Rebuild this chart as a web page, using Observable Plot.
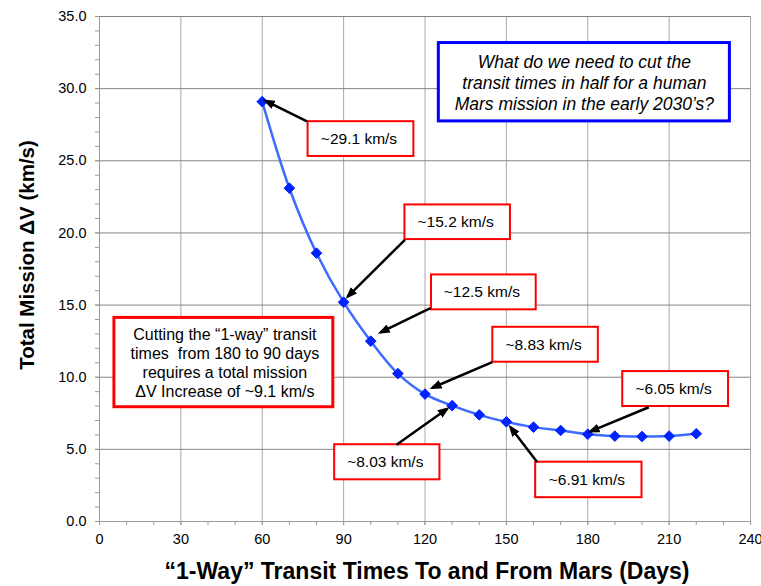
<!DOCTYPE html>
<html><head><meta charset="utf-8">
<script src="https://cdn.jsdelivr.net/npm/d3@7"></script>
<script src="https://cdn.jsdelivr.net/npm/@observablehq/plot@0.6"></script>
<style>
html,body{margin:0;padding:0;background:#fff;}
#chart svg text{white-space:pre;}
</style></head><body><div id="chart"></div>
<script>
// ---- data ----
const transitDays = [60, 70, 80, 90, 100, 110, 120, 130, 140, 150, 160, 170, 180, 190, 200, 210, 220];
const missionDeltaV = [29.1, 23.1, 18.6, 15.2, 12.5, 10.25, 8.83, 8.03, 7.39, 6.91, 6.54, 6.31, 6.05, 5.92, 5.89, 5.92, 6.08];

const xTicks = [0, 30, 60, 90, 120, 150, 180, 210, 240];
const xMinorTicks = d3.range(0, 241, 10);
const yTicks = [0, 5, 10, 15, 20, 25, 30, 35];
const yMinorTicks = d3.range(0, 36, 1);

const xTitle = "\u201C1-Way\u201D Transit Times To and From Mars (Days)";
const yTitle = "Total Mission \u0394V (km/s)";

// callouts (box corners / arrow ends in data units)
const calloutLabels = ["~29.1 km/s", "~15.2 km/s", "~12.5 km/s", "~8.83 km/s", "~6.05 km/s", "~8.03 km/s", "~6.91 km/s"];
const calloutBoxX1 = [76.9, 112.6, 122.4, 145.0, 192.9, 86.7, 160.8];
const calloutBoxX2 = [115.9, 151.5, 161.0, 183.9, 231.9, 125.5, 200.0];
const calloutBoxTop = [27.71, 21.94, 17.09, 13.46, 10.39, 5.32, 4.11];
const calloutBoxBottom = [25.30, 19.54, 14.67, 11.04, 7.97, 2.89, 1.65];
const arrowFromX = [76.5, 112.6, 122.0, 144.8, 202.5, 109.5, 161.4];
const arrowFromY = [27.73, 19.52, 14.78, 11.04, 7.92, 5.32, 4.11];
const arrowToX = [61.2, 91.5, 103.6, 122.7, 181.0, 128.2, 151.5];
const arrowToY = [29.16, 15.59, 13.1, 9.27, 6.24, 7.81, 6.54];

const noteCutText = "Cutting the \u201C1-way\u201D transit\ntimes  from 180 to 90 days\nrequires a total mission\n\u0394V Increase of ~9.1 km/s";
const noteCutBox = {x1: 5.5, x2: 86.2, top: 14.11, bottom: 7.92};
const noteQuestionText = "What do we need to cut the\ntransit times in half for a human\nMars mission in the early 2030\u2019s?";
const noteQuestionBox = {x1: 125.1, x2: 232.4, top: 33.16, bottom: 27.73};

// ---- build tables ----
const series = transitDays.map((d, i) => ({day: d, dv: missionDeltaV[i]}));
const callouts = calloutLabels.map((label, i) => ({
  label, x1: calloutBoxX1[i], x2: calloutBoxX2[i], top: calloutBoxTop[i], bottom: calloutBoxBottom[i],
  sx: arrowFromX[i], sy: arrowFromY[i], tx: arrowToX[i], ty: arrowToY[i]
}));
const notes = [{...noteCutBox, text: noteCutText}];
const questions = [{...noteQuestionBox, text: noteQuestionText}];

const font = "'Liberation Sans', Arial, Helvetica, sans-serif";

const chart = Plot.plot({
  width: 761,
  height: 586,
  marginLeft: 99,
  marginRight: 11,
  marginTop: 16,
  marginBottom: 65,
  style: {fontFamily: font, fontSize: "14.5px", color: "#000", background: "#fff", overflow: "visible"},
  x: {domain: [0, 240], label: null},
  y: {domain: [0, 35], label: null},
  marks: [
    Plot.gridX(xTicks.slice(1), {stroke: "#a8a8a8", strokeOpacity: 1, strokeWidth: 1}),
    Plot.gridY(yTicks.slice(1), {stroke: "#858585", strokeOpacity: 1, strokeWidth: 1}),
    Plot.axisY(yMinorTicks, {tickSize: 4, tickFormat: () => "", stroke: "#999", label: null}),
    Plot.axisY(yTicks, {tickSize: 4, tickPadding: 9, tickFormat: d => d.toFixed(1), stroke: "#999", fill: "#000", fontSize: 14.5, label: null}),
    Plot.axisX(xMinorTicks, {tickSize: 4, tickFormat: () => "", stroke: "#999", label: null}),
    Plot.axisX(xTicks, {tickSize: 4, tickPadding: 8, tickFormat: d => String(d), stroke: "#999", fill: "#000", fontSize: 14.5, label: null}),
    Plot.ruleX([0], {stroke: "#999"}),
    Plot.ruleY([0], {stroke: "#999"}),
    Plot.line(series, {x: "day", y: "dv", curve: "catmull-rom", stroke: "#3d6bff", strokeWidth: 2.5}),
    Plot.dot(series, {x: "day", y: "dv", symbol: "diamond2", r: 4.8, fill: "#0022ff", stroke: "#0022ff", strokeWidth: 1}),
    // callout boxes
    Plot.rect(callouts, {x1: "x1", x2: "x2", y1: "bottom", y2: "top", fill: "#fff", stroke: "#ff0000", strokeWidth: 2}),
    Plot.text(callouts, {x: d => (d.x1 + d.x2) / 2, y: d => (d.top + d.bottom) / 2, text: "label", fontSize: 15.5, fill: "#000", dx: -2}),
    Plot.link(callouts, {x1: "sx", y1: "sy", x2: "tx", y2: "ty", stroke: "#000", strokeWidth: 2.5}),
    // big notes
    Plot.rect(notes, {x1: "x1", x2: "x2", y1: "bottom", y2: "top", fill: "#fff", stroke: "#ff0000", strokeWidth: 3}),
    Plot.text(notes, {x: d => (d.x1 + d.x2) / 2, y: d => (d.top + d.bottom) / 2, text: "text", fontSize: 16, lineHeight: 1.18, fill: "#000", dx: 1}),
    Plot.rect(questions, {x1: "x1", x2: "x2", y1: "bottom", y2: "top", fill: "#fff", stroke: "#0000ff", strokeWidth: 3}),
    Plot.text(questions, {x: d => (d.x1 + d.x2) / 2, y: d => (d.top + d.bottom) / 2, text: "text", fontSize: 17.5, fontStyle: "italic", lineHeight: 1.19, fill: "#000"}),
    // axis titles
    Plot.text([yTitle], {text: d => d, frameAnchor: "left", textAnchor: "middle", lineAnchor: "middle", rotate: -90, dx: -72, dy: -14, fontSize: 20.5, fontWeight: "bold", fill: "#000"}),
    Plot.text([xTitle], {text: d => d, frameAnchor: "bottom", textAnchor: "middle", lineAnchor: "middle", dx: 2, dy: 50.5, fontSize: 23, fontWeight: "bold", fill: "#000"})
  ]
});

// filled arrowheads for the callout arrows
const svg = d3.select(chart);
svg.insert("defs", ":first-child")
  .append("marker")
  .attr("id", "callout-head")
  .attr("markerUnits", "userSpaceOnUse")
  .attr("viewBox", "0 0 12 9")
  .attr("markerWidth", 12).attr("markerHeight", 9)
  .attr("refX", 9).attr("refY", 4.5)
  .attr("orient", "auto")
  .append("path").attr("d", "M0,0L12,4.5L0,9Z").attr("fill", "#000");
svg.selectAll('g[aria-label="link"] path').attr("marker-end", "url(#callout-head)");

document.getElementById("chart").appendChild(chart);
</script>
</body></html>
